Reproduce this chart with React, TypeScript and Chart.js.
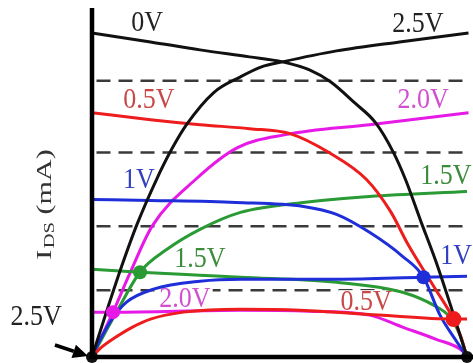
import React, { useEffect, useRef } from "react";
import { Chart, registerables } from "chart.js";

Chart.register(...registerables);

type Pt = [number, number];

// x: drain-source voltage position (0..2.5), y: current (arbitrary mA units)
const left0V: Pt[] = [[0, 3.25], [0.39, 3.16], [0.72, 3.08], [1.05, 3.01], [1.27, 2.96], [1.45, 2.88], [1.59, 2.76], [1.75, 2.55], [1.89, 2.35], [2.01, 2.05], [2.09, 1.78], [2.19, 1.37], [2.29, 0.97], [2.39, 0.52], [2.5, 0]];
const right2_5V: Pt[] = [[0, 0], [0.1, 0.47], [0.2, 0.92], [0.3, 1.33], [0.43, 1.78], [0.53, 2.08], [0.63, 2.33], [0.81, 2.65], [0.99, 2.81], [1.13, 2.91], [1.27, 2.96], [1.63, 3.07], [2.05, 3.16], [2.51, 3.25]];
const left0_5V: Pt[] = [[0, 2.45], [0.39, 2.38], [0.72, 2.33], [1.05, 2.29], [1.32, 2.24], [1.58, 2.05], [1.83, 1.78], [1.99, 1.46], [2.11, 1.12], [2.29, 0.68], [2.41, 0.38], [2.46, 0.2], [2.5, 0]];
const right0_5V: Pt[] = [[0, 0], [0.05, 0.08], [0.17, 0.21], [0.27, 0.3], [0.39, 0.38], [0.61, 0.45], [0.99, 0.48], [1.39, 0.47], [1.91, 0.42], [2.41, 0.38], [2.5, 0.38]];
const left1V: Pt[] = [[0, 1.58], [0.39, 1.57], [0.96, 1.55], [1.41, 1.51], [1.63, 1.43], [1.85, 1.25], [2.07, 1.01], [2.21, 0.8], [2.32, 0.42], [2.42, 0.18], [2.5, 0]];
const right1V: Pt[] = [[0, 0], [0.05, 0.16], [0.12, 0.35], [0.23, 0.55], [0.41, 0.68], [0.72, 0.76], [0.99, 0.78], [1.63, 0.78], [2.21, 0.8], [2.5, 0.81]];
const left1_5V: Pt[] = [[0, 0.88], [0.32, 0.85], [0.72, 0.82], [0.99, 0.8], [1.63, 0.75], [2.07, 0.65], [2.29, 0.51], [2.38, 0.41], [2.45, 0.23], [2.5, 0]];
const right1_5V: Pt[] = [[0, 0], [0.16, 0.44], [0.32, 0.85], [0.5, 1.08], [0.72, 1.28], [0.99, 1.45], [1.41, 1.55], [1.85, 1.61], [2.5, 1.66]];
const left2_0V: Pt[] = [[0, 0.45], [0.14, 0.45], [0.99, 0.47], [1.45, 0.46], [1.85, 0.42], [2.07, 0.3], [2.29, 0.18], [2.47, 0.06], [2.5, 0]];
const right2_0V: Pt[] = [[0, 0], [0.14, 0.45], [0.25, 0.83], [0.4, 1.31], [0.69, 1.78], [0.97, 2.1], [1.29, 2.23], [1.85, 2.33], [2.51, 2.45]];

// operating points (intersections)
const dotX = [0, 0.14, 0.32, 2.21, 2.41, 2.5];
const dotY = [0, 0.45, 0.85, 0.8, 0.38, 0];

// dashed reference levels
const dashLevels = [2.77, 2.05, 1.31, 0.67];
const dashFrom = 0.03;
const dashTo = 2.49;

// curve labels (text, data position)
const labelText = ["0V", "2.5V", "0.5V", "2.0V", "1V", "1.5V", "1.5V", "1V", "2.0V", "0.5V", "2.5V"];
const labelX = [0.367, 2.173, 0.38, 2.207, 0.313, 2.36, 0.72, 2.427, 0.62, 1.827, -0.373];
const labelY = [3.35, 3.34, 2.58, 2.58, 1.77, 1.81, 0.98, 1.01, 0.58, 0.55, 0.4];

// arrow from the "2.5V" label to the origin
const arrowFrom: Pt = [-0.247, 0.12];
const arrowTo: Pt = [-0.027, 0.01];

const yTitle = { main: "I", sub: "DS", rest: " (mA)" };

const BLACK = "#111111";
const RED = "#ee1c1c";
const BLUE = "#1e2ed8";
const GREEN = "#2a9a35";
const MAGENTA = "#e619e6";

const labelColors = ["#222222", "#222222", "#c84848", "#d050d0", "#3040c0", "#3c8c3c", "#3c8c3c", "#3040c0", "#d050d0", "#c84848", "#222222"];
const labelBg = [false, false, false, false, false, false, false, false, true, true, false];
const dotColors = [BLACK, MAGENTA, GREEN, BLUE, RED, BLACK];
const dotRadii = [6, 7, 7, 7, 8, 6];

const SERIF = '"Liberation Serif", "DejaVu Serif", serif';

function toXY(a: Pt[]) {
  return a.map(([x, y]) => ({ x, y }));
}

export default function App() {
  const ref = useRef<HTMLCanvasElement>(null);

  useEffect(() => {
    const canvas = ref.current!;
    let labelsDrawn = false;

    const drawLabels = (chart: any) => {
      const ctx = chart.ctx;
      const sx = chart.scales.x;
      const sy = chart.scales.y;
      ctx.save();
      ctx.font = `26px ${SERIF}`;
      ctx.textAlign = "center";
      ctx.textBaseline = "middle";
      labelText.forEach((t, i) => {
        const px = sx.getPixelForValue(labelX[i]);
        const py = sy.getPixelForValue(labelY[i]);
        if (labelBg[i]) {
          const w = ctx.measureText(t).width;
          ctx.fillStyle = "#ffffff";
          ctx.fillRect(px - w / 2 - 2, py - 12, w + 4, 24);
        }
        ctx.save();
        ctx.translate(px, py);
        ctx.scale(1, 1.15);
        ctx.fillStyle = labelColors[i];
        ctx.fillText(t, 0, 0);
        ctx.restore();
      });
      ctx.restore();
    };

    const overlay = {
      id: "overlay",
      beforeDatasetsDraw() {
        labelsDrawn = false;
      },
      beforeDatasetDraw(chart: any, args: any) {
        const ds = chart.data.datasets[args.index] as any;
        if (!labelsDrawn && !ds.isDash) {
          drawLabels(chart);
          labelsDrawn = true;
        }
      },
      afterDatasetsDraw(chart: any) {
        const ctx = chart.ctx;
        const { left, top, bottom } = chart.chartArea;
        const sx = chart.scales.x;
        const sy = chart.scales.y;
        ctx.save();
        // axes
        ctx.strokeStyle = "#000";
        ctx.lineWidth = 4.5;
        ctx.beginPath();
        ctx.moveTo(left, top);
        ctx.lineTo(left, bottom + 2);
        ctx.moveTo(left - 2, bottom);
        ctx.lineTo(chart.width, bottom);
        ctx.stroke();
        // arrow
        const x0 = sx.getPixelForValue(arrowFrom[0]);
        const y0 = sy.getPixelForValue(arrowFrom[1]);
        const x1 = sx.getPixelForValue(arrowTo[0]);
        const y1 = sy.getPixelForValue(arrowTo[1]);
        const ang = Math.atan2(y1 - y0, x1 - x0);
        const hl = 15;
        const hw = 7;
        ctx.lineWidth = 3.5;
        ctx.beginPath();
        ctx.moveTo(x0, y0);
        ctx.lineTo(x1 - hl * Math.cos(ang), y1 - hl * Math.sin(ang));
        ctx.stroke();
        ctx.fillStyle = "#000";
        ctx.beginPath();
        ctx.moveTo(x1, y1);
        ctx.lineTo(x1 - hl * Math.cos(ang) + hw * Math.sin(ang), y1 - hl * Math.sin(ang) - hw * Math.cos(ang));
        ctx.lineTo(x1 - hl * Math.cos(ang) - hw * Math.sin(ang), y1 - hl * Math.sin(ang) + hw * Math.cos(ang));
        ctx.closePath();
        ctx.fill();
        // y title
        ctx.translate(left - 47, (top + bottom) / 2 + 22);
        ctx.rotate(-Math.PI / 2);
        ctx.scale(1.37, 1);
        ctx.fillStyle = "#333333";
        ctx.textBaseline = "middle";
        ctx.textAlign = "left";
        ctx.font = `22px ${SERIF}`;
        const wMain = ctx.measureText(yTitle.main).width;
        const wRest = ctx.measureText(yTitle.rest).width;
        ctx.font = `15px ${SERIF}`;
        const wSub = ctx.measureText(yTitle.sub).width;
        const total = wMain + wSub + wRest + 1;
        let cx = -total / 2;
        ctx.font = `22px ${SERIF}`;
        ctx.fillText(yTitle.main, cx, 0);
        cx += wMain + 1;
        ctx.font = `15px ${SERIF}`;
        ctx.fillText(yTitle.sub, cx, 5);
        cx += wSub;
        ctx.font = `22px ${SERIF}`;
        ctx.fillText(yTitle.rest, cx, 0);
        ctx.restore();
      },
    };

    const curve = (data: Pt[], color: string) => ({
      data: toXY(data),
      borderColor: color,
      backgroundColor: color,
      borderWidth: 3,
      pointRadius: 0,
      cubicInterpolationMode: "monotone" as const,
      fill: false,
      clip: false as any,
      order: 5,
    });

    const dashSets = dashLevels.map((v) => ({
      isDash: true,
      data: [{ x: dashFrom, y: v }, { x: dashTo, y: v }],
      borderColor: "#3a3a3a",
      borderWidth: 2.5,
      borderDash: [14, 8],
      pointRadius: 0,
      fill: false,
      order: 10,
    }));

    const chart = new Chart(canvas, {
      type: "line",
      data: {
        datasets: [
          ...(dashSets as any[]),
          curve(left0V, BLACK),
          curve(right2_5V, BLACK),
          curve(left0_5V, RED),
          curve(right0_5V, RED),
          curve(left1V, BLUE),
          curve(right1V, BLUE),
          curve(left1_5V, GREEN),
          curve(right1_5V, GREEN),
          curve(left2_0V, MAGENTA),
          curve(right2_0V, MAGENTA),
          {
            data: dotX.map((x, i) => ({ x, y: dotY[i] })),
            showLine: false,
            pointRadius: dotRadii,
            pointBackgroundColor: dotColors,
            pointBorderColor: dotColors,
            pointBorderWidth: 0,
            clip: false as any,
            order: 0,
          } as any,
        ],
      },
      options: {
        animation: false,
        responsive: false,
        maintainAspectRatio: false,
        layout: { padding: { left: 92, top: 8, right: 6, bottom: 5 } },
        scales: {
          x: { type: "linear", min: 0, max: 2.5, display: false },
          y: { type: "linear", min: 0, max: 3.5, display: false },
        },
        plugins: {
          legend: { display: false },
          tooltip: { enabled: false },
        },
      },
      plugins: [overlay as any],
    });

    return () => chart.destroy();
  }, []);

  return (
    <div style={{ position: "fixed", left: 0, top: 0, width: 473, height: 363, background: "#fff" }}>
      <canvas ref={ref} width={473} height={363} style={{ display: "block", width: 473, height: 363 }} />
    </div>
  );
}
